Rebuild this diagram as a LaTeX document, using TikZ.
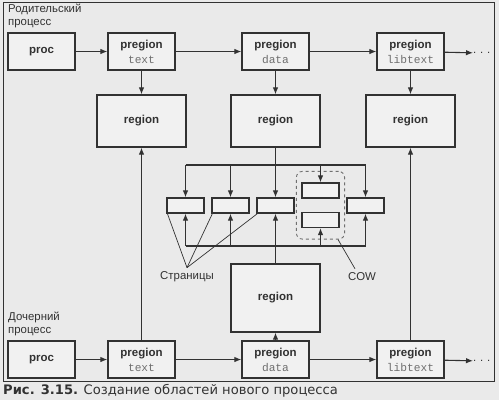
\documentclass[tikz,border=0pt]{standalone}
\usepackage{fontspec}
\setmainfont{Liberation Sans}
\setmonofont{Liberation Mono}
\newfontfamily\capfont{DejaVu Sans}
\usetikzlibrary{fit,arrows.meta}

\definecolor{paper}{RGB}{234,234,234}
\definecolor{ink}{RGB}{50,50,50}
\definecolor{boxfill}{RGB}{241,241,241}

\newcommand{\preg}[1]{pregion\\{\mdseries\ttfamily\fontsize{11.2}{15}\selectfont\color{ink!70}#1}}

\begin{document}
\begin{tikzpicture}[x=1pt,y=-1pt,
    >={Latex[length=7pt,width=5.5pt]},
    box/.style={draw=ink, fill=boxfill, line width=1.2pt, minimum width=67pt, minimum height=37pt,
        inner sep=0pt, align=center, text=ink, font=\bfseries\fontsize{11.5}{15}\selectfont},
    regionbox/.style={box, minimum width=89pt, minimum height=52pt},
    pagebox/.style={draw=ink, fill=boxfill, line width=1.2pt, minimum width=37pt, minimum height=15pt, inner sep=0pt},
    cowbox/.style={draw=ink!70, dashed, line width=0.9pt, rounded corners=6pt, inner xsep=5pt, inner ysep=11pt},
    link/.style={draw=ink, line width=1.1pt, ->},
    wire/.style={draw=ink, line width=1.1pt},
    thin/.style={draw=ink, line width=0.7pt},
    label/.style={text=ink, font=\fontsize{11.4}{12.5}\selectfont, align=left, inner sep=0pt}]

    \useasboundingbox[fill=paper] (0,0) rectangle (499,400);
    \draw[ink, line width=0.9pt] (3,2) rectangle (494,381);

    \node[label, anchor=north west] (parent) at (8,4) {Родительский\\процесс};
    \node[label, anchor=north west] (child) at (8,312) {Дочерний\\процесс};

    % parent process
    \node[box] (proc1) at (41.5,51.5) {proc};
    \node[box] (ptext1) at (141.5,51.5) {\preg{text}};
    \node[box] (pdata1) at (275.5,51.5) {\preg{data}};
    \node[box] (plib1) at (410.5,51.5) {\preg{libtext}};
    \node[label, anchor=west] (dots1) at (473,53) {.\,\,.\,\,.};

    \node[regionbox] (r1) at (141.5,121) {region};
    \node[regionbox] (r2) at (275.5,121) {region};
    \node[regionbox] (r3) at (410.5,121) {region};

    % pages
    \node[pagebox] (p1) at (185.5,205.5) {};
    \node[pagebox] (p2) at (230.5,205.5) {};
    \node[pagebox] (p3) at (275.5,205.5) {};
    \node[pagebox] (c1) at (320.5,190.5) {};
    \node[pagebox] (c2) at (320.5,220) {};
    \node[pagebox] (p5) at (365.5,205.5) {};
    \node[cowbox, fit=(c1)(c2)] (cow) {};

    \node[regionbox, minimum height=68pt] (r4) at (275.5,298) {region};

    % child process
    \node[box] (proc2) at (41.5,359.5) {proc};
    \node[box] (ptext2) at (141.5,359.5) {\preg{text}};
    \node[box] (pdata2) at (275.5,359.5) {\preg{data}};
    \node[box] (plib2) at (410.5,359.5) {\preg{libtext}};
    \node[label, anchor=west] (dots2) at (473,361) {.\,\,.\,\,.};

    \node[label] (pages) at (187,277) {Страницы};
    \node[label] (cowlab) at (362,277) {COW};

    \coordinate (topbus) at (0,165);
    \coordinate (botbus) at (0,246);

    \draw[link] (proc1) -- (ptext1);
    \draw[link] (ptext1) -- (pdata1);
    \draw[link] (pdata1) -- (plib1);
    \draw[link] (plib1) -- (dots1);
    \draw[link] (proc2) -- (ptext2);
    \draw[link] (ptext2) -- (pdata2);
    \draw[link] (pdata2) -- (plib2);
    \draw[link] (plib2) -- (dots2);

    \draw[link] (ptext1) -- (r1);
    \draw[link] (pdata1) -- (r2);
    \draw[link] (plib1) -- (r3);
    \draw[link] (ptext2) -- (r1);
    \draw[link] (plib2) -- (r3);
    \draw[link] (pdata2) -- (r4);

    \draw[link] (r2) -- (p3);
    \draw[link] (r4) -- (p3);
    \draw[wire] (p1.north |- topbus) -- (p5.north |- topbus);
    \draw[wire] (p1.south |- botbus) -- (p5.south |- botbus);
    \foreach \p in {p1,p2,c1,p5}
        \draw[link] (\p.north |- topbus) -- (\p.north);
    \foreach \p in {p1,p2,c2,p5}
        \draw[link] (\p.south |- botbus) -- (\p.south);

    \foreach \p in {p1,p2,p3}
        \draw[thin] ([yshift=4pt]pages.north) -- ([xshift=1pt]\p.south west);
    \draw[thin] ([xshift=-7pt,yshift=4pt]cowlab.north) -- ([xshift=-7pt]cow.south east);

    \node[anchor=west, inner sep=0pt, text=ink, font=\capfont\fontsize{13.1}{14}\selectfont] (caption) at (3,391)
        {\textbf{Рис. 3.15.} Создание областей нового процесса};
\end{tikzpicture}
\end{document}
